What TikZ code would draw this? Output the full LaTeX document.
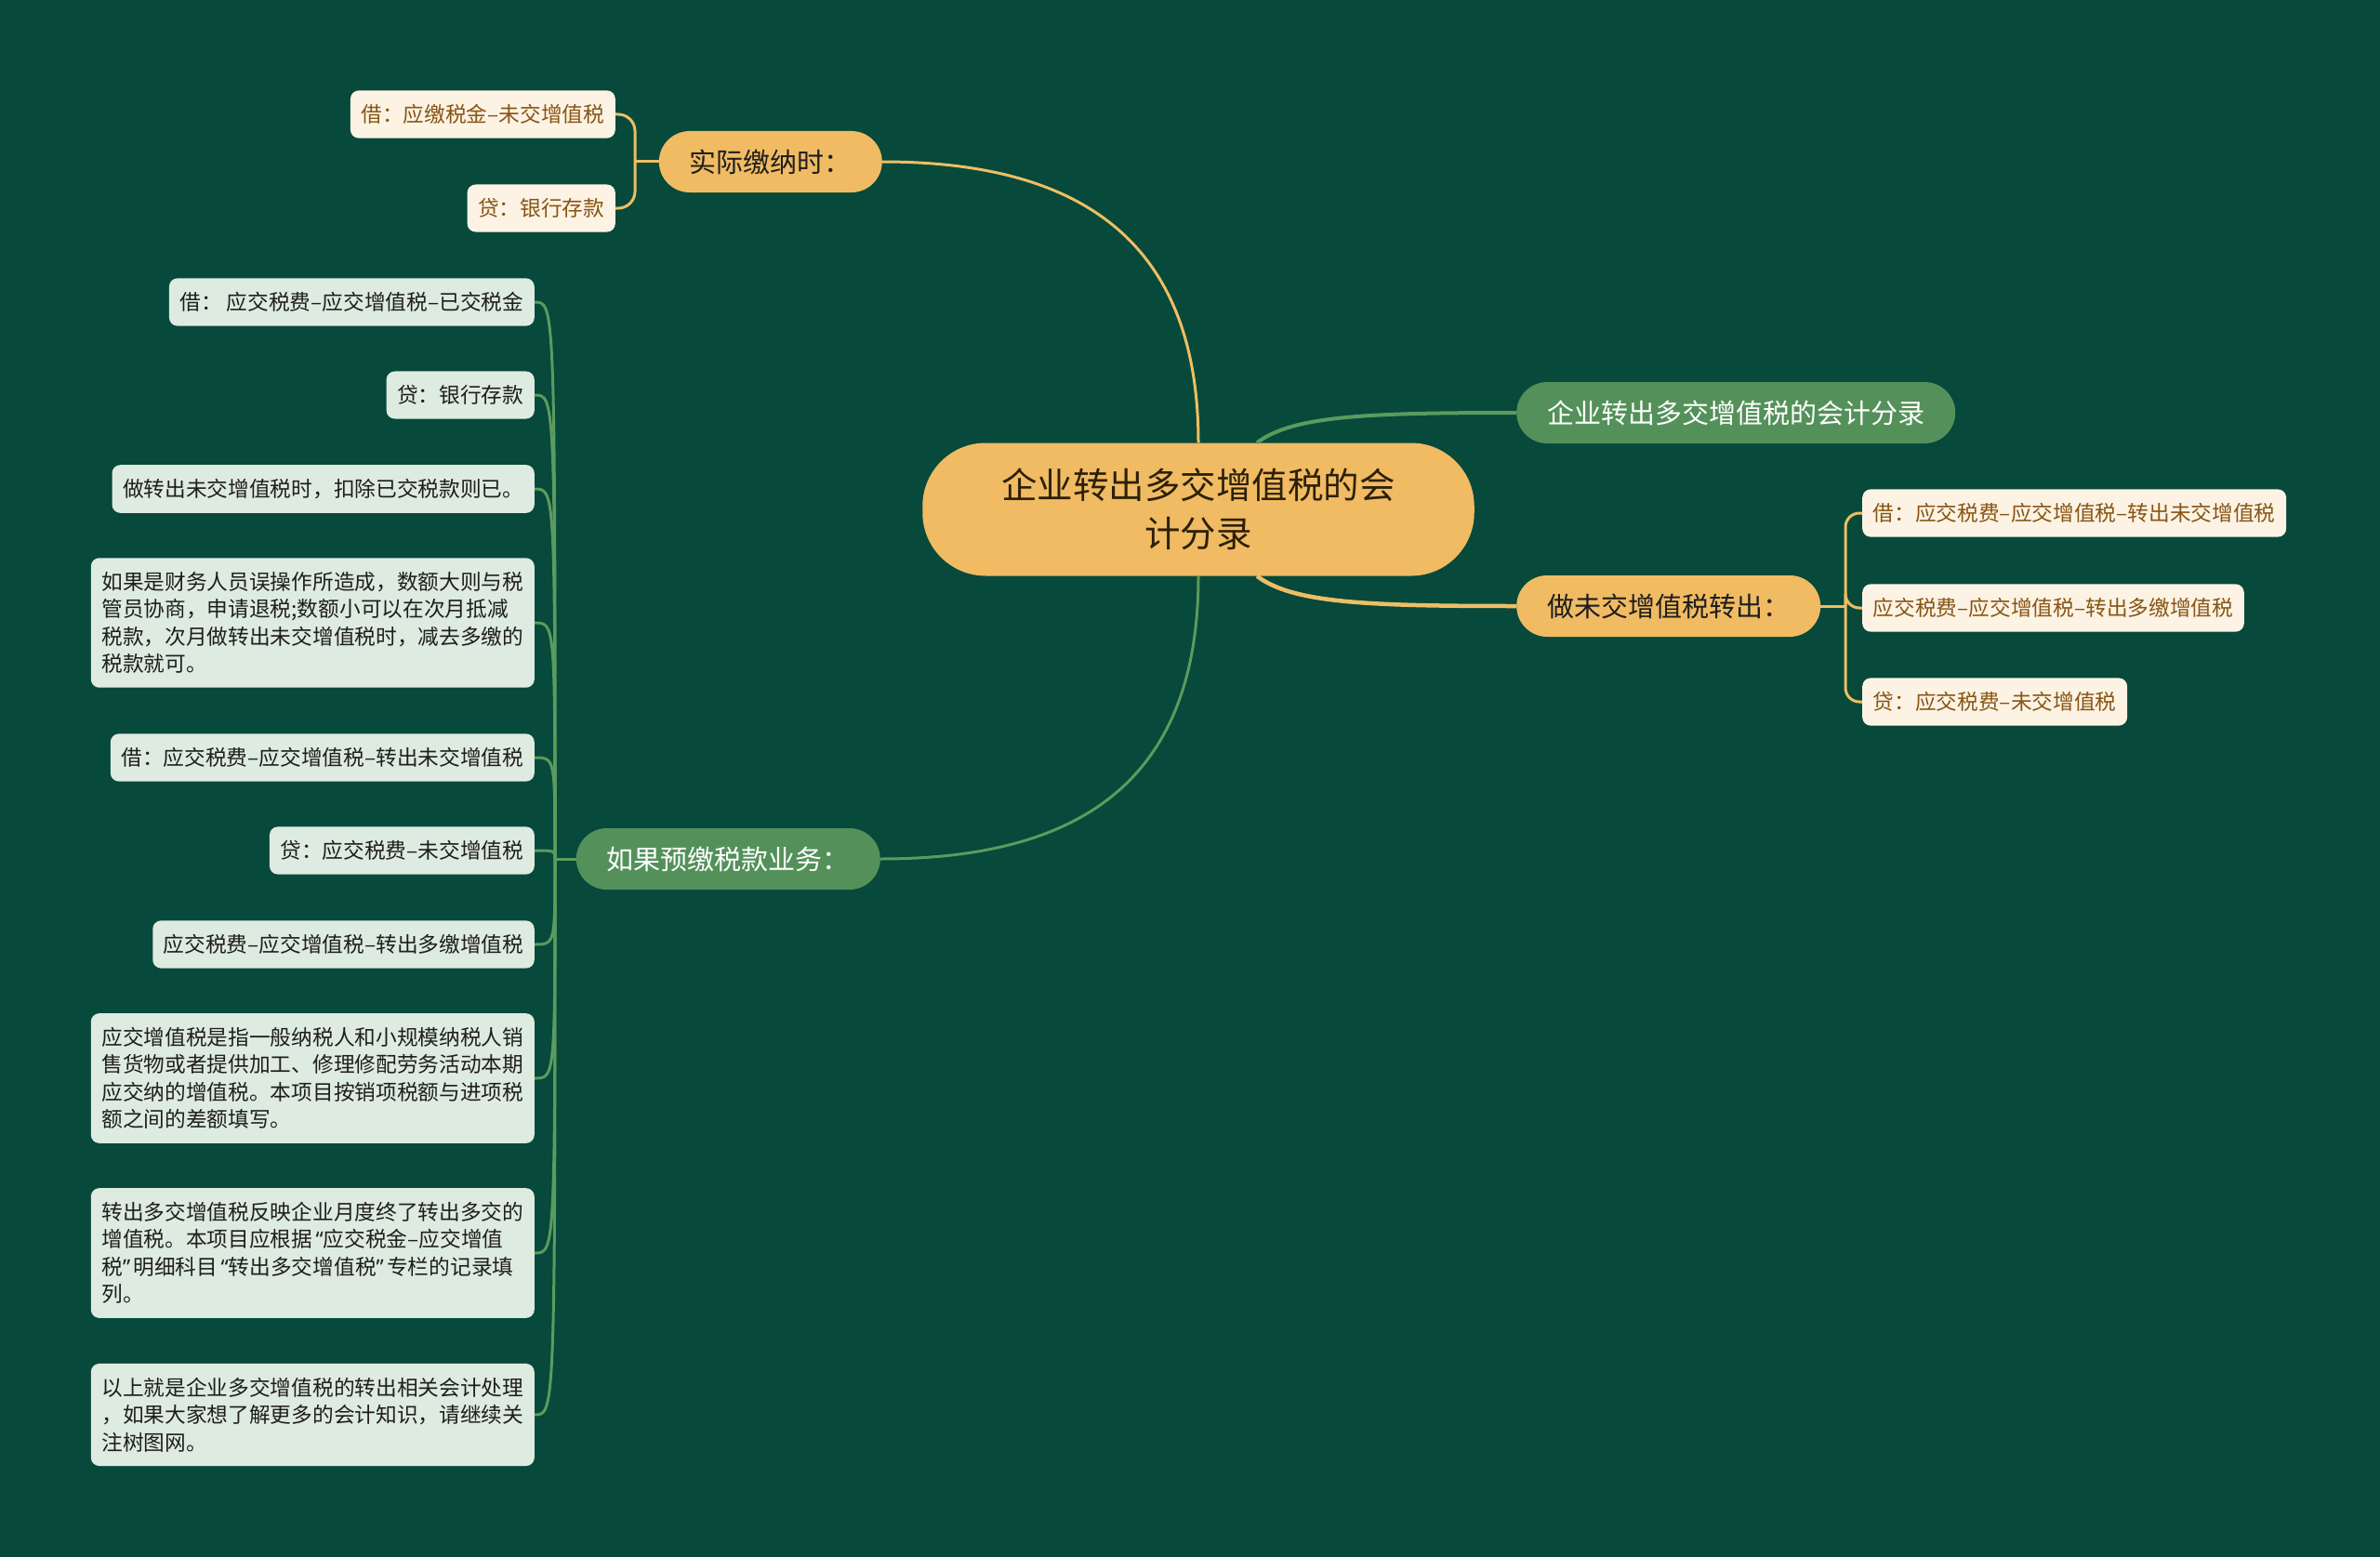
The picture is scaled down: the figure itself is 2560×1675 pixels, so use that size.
\documentclass[tikz,border=0pt]{standalone}
\usepackage{fontspec}
\newfontfamily\cjk{Noto Sans CJK SC}
\newfontfamily\latq{Noto Sans}
\newcommand\qopen{\makebox[11.5pt][r]{\latq “}}
\newcommand\qclose{\makebox[11.5pt][l]{\latq ”}}
\definecolor{bg}{RGB}{7,73,58}
\definecolor{gold}{RGB}{240,187,98}
\definecolor{goldline}{RGB}{238,190,100}
\definecolor{nodegreen}{RGB}{84,145,90}
\definecolor{greenline}{RGB}{90,155,95}
\definecolor{leafgreen}{RGB}{222,235,225}
\definecolor{cream}{RGB}{253,243,228}
\definecolor{browntxt}{RGB}{135,85,20}
\definecolor{darktxt}{RGB}{30,30,30}
\definecolor{roottxt}{RGB}{45,32,10}
\begin{document}
\begin{tikzpicture}[x=1pt,y=-1pt,
  leafg/.style={fill=leafgreen, rounded corners=9, font=\cjk\fontsize{22.7}{29.5}\selectfont,
    text=darktxt, align=left, inner xsep=11.5, inner ysep=15, minimum height=51},
  leafc/.style={leafg, fill=cream, text=browntxt},
  lgold/.style={fill=gold, rounded corners=33, minimum height=66, inner xsep=33, inner ysep=0,
    font=\cjk\fontsize{29}{35}\selectfont, text=darktxt},
  lgreen/.style={lgold, fill=nodegreen, text=white},
  rootn/.style={fill=gold, rounded corners=68, minimum height=143, inner xsep=85, inner ysep=0,
    align=center, font=\cjk\fontsize{38.5}{52}\selectfont, text=roottxt},
  gl/.style={draw=goldline, line width=3},
  grl/.style={draw=greenline, line width=3}]
\path[use as bounding box, fill=bg] (0,0) rectangle (2560,1675);

% root
\node[rootn] (root) at (1289,548) {企业转出多交增值税的会\\计分录};

% level 1
\node[lgold, anchor=east] (sj) at (949,174) {实际缴纳时：};
\node[lgreen, anchor=east] (yj) at (947,924) {如果预缴税款业务：};
\node[lgreen, anchor=west] (qy) at (1631,444) {企业转出多交增值税的会计分录};
\node[lgold, anchor=west] (zw) at (1631,652) {做未交增值税转出：};

% top-left leaves
\node[leafc, anchor=east] (t1) at (662,123) {借：应缴税金–未交增值税};
\node[leafc, anchor=east] (t2) at (662,224) {贷：银行存款};

% right leaves
\node[leafc, anchor=west] (r1) at (2003,552) {借：应交税费–应交增值税–转出未交增值税};
\node[leafc, anchor=west] (r2) at (2003,654) {应交税费–应交增值税–转出多缴增值税};
\node[leafc, anchor=west] (r3) at (2003,755) {贷：应交税费–未交增值税};

% left leaves
\node[leafg, anchor=east] (a1) at (575,325) {借：\ 应交税费–应交增值税–已交税金};
\node[leafg, anchor=east] (a2) at (575,425) {贷：银行存款};
\node[leafg, anchor=east] (a3) at (575,526) {做转出未交增值税时，扣除已交税款则已。};
\node[leafg, anchor=east] (a4) at (575,670) {如果是财务人员误操作所造成，数额大则与税\\管员协商，申请退税;数额小可以在次月抵减\\税款，次月做转出未交增值税时，减去多缴的\\税款就可。};
\node[leafg, anchor=east] (a5) at (575,815) {借：应交税费–应交增值税–转出未交增值税};
\node[leafg, anchor=east] (a6) at (575,915) {贷：应交税费–未交增值税};
\node[leafg, anchor=east] (a7) at (575,1016) {应交税费–应交增值税–转出多缴增值税};
\node[leafg, anchor=east] (a8) at (575,1160) {应交增值税是指一般纳税人和小规模纳税人销\\售货物或者提供加工、修理修配劳务活动本期\\应交纳的增值税。本项目按销项税额与进项税\\额之间的差额填写。};
\node[leafg, anchor=east] (a9) at (575,1348) {转出多交增值税反映企业月度终了转出多交的\\增值税。本项目应根据\qopen 应交税金–应交增值\\税\qclose 明细科目\qopen 转出多交增值税\qclose 专栏的记录填\\列。};
\node[leafg, anchor=east] (a10) at (575,1522) {以上就是企业多交增值税的转出相关会计处理\\，如果大家想了解更多的会计知识，请继续关\\注树图网。};

% root connectors
\draw[gl] (root.north) .. controls +(0,-227) and +(201,0) .. (sj.east);
\draw[grl] (root.south) .. controls +(0,230) and +(203,0) .. (yj.east);
\draw[draw=greenline, line width=4] ([xshift=63pt]root.north) .. controls +(38,-29) and +(-161,0) .. (qy.west);
\draw[draw=goldline, line width=4.5] ([xshift=63pt]root.south) .. controls +(38,29) and +(-161,0) .. (zw.west);

% top-left bracket
\coordinate (sjb) at (683,174);
\draw[gl] (sj.west) -- (sjb);
\foreach \t in {t1,t2} \draw[gl, rounded corners=18] (sjb) |- (\t.east);

% right bracket
\coordinate (zwb) at (1985,652);
\draw[gl] (zw.east) -- (zwb);
\foreach \t in {r1,r2,r3} \draw[gl, rounded corners=15] (zwb) |- (\t.west);

% left bundle
\coordinate (yjb) at (597,924);
\draw[grl] (yj.west) -- (yjb);
\foreach \t in {a1,a2,a3,a4,a5,a6,a7,a8,a9,a10}
  \draw[grl] (yjb) .. controls (yjb |- \t.east) .. (\t.east);
\end{tikzpicture}
\end{document}
